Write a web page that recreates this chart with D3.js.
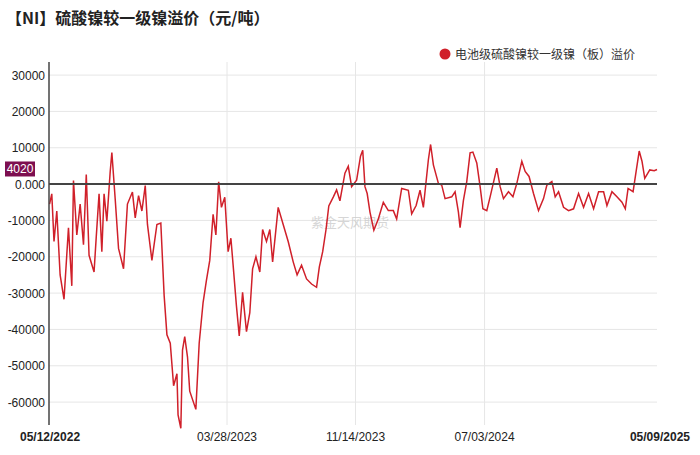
<!DOCTYPE html>
<html><head><meta charset="utf-8">
<script src="https://cdn.jsdelivr.net/npm/d3@7"></script>
<style>body{margin:0;background:#fff;font-family:"Noto Sans CJK SC","Noto Sans",sans-serif}</style>
</head><body><svg id="chart"></svg>
<script>
// days since 05/12/2022
var dayOffsets = [1,5,9,14,20,27,35,41,44,50,56,62,67,72,81,85,90,95,99,104,110,113,119,125,134,141,150,155,161,167,173,177,185,194,201,207,212,218,224,230,232,237,240,244,249,253,264,270,277,283,289,295,300,305,310,316,322,327,331,337,342,348,355,361,366,372,379,384,391,397,402,412,421,430,439,446,454,463,472,481,486,492,498,503,511,517,523,
  532,538,544,553,560,564,568,572,577,584,592,601,610,619,625,634,646,652,660,667,673,682,686,691,700,706,712,724,730,736,739,745,751,757,762,769,775,780,787,793,800,805,811,817,826,834,841,850,856,863,871,880,889,895,904,910,916,925,934,943,952,961,970,979,988,997,1003,1012,1021,1030,1036,1041,1050,1055,1061,1066,1071,1080,1088,1093];
var premium = [-5500,-2700,-15800,-7400,-25000,-31700,-12000,-28000,1000,-14000,-5500,-16700,2600,-19600,-24200,-14400,-2700,-18600,-2700,-10200,3400,8700,-4100,-17700,-23300,-5500,-2200,-9300,-3200,-7400,-400,-11100,-21000,-11100,-10700,-30700,-41500,-43800,-55500,-52200,-63500,-67200,-45700,-42000,-47600,-57000,-62000,-43800,-32600,-26500,-21000,-8300,-14000,600,-6400,-3600,-18600,-14900,-22300,-33600,-41800,-29800,-40600,-35400,-23300,-20000,-24200,-12500,-15800,-12500,-21400,-6400,-11100,-15800,-21400,-25000,-22300,-26100,-27500,-28400,-22800,-18600,-12500,-6000,-3600,-1600,-4600,
  3000,4900,-700,1100,7700,9300,-700,-2600,-7700,-12700,-9600,-5000,-7300,-7300,-9600,-1200,-1700,-8200,-5900,-1700,-6400,6700,10900,5300,200,-300,-4000,-3500,-2100,-7700,-12000,-4500,700,8600,8800,5800,-700,-6800,-7300,-3500,1100,4400,-700,-4000,-2100,-3500,200,6300,3500,2100,-2600,-7300,-4000,-300,700,-3500,-2100,-6400,-7300,-6800,-2600,-6400,-2600,-6800,-2100,-2100,-5900,-2100,-3500,-5000,-6800,-1200,-2100,3000,9100,6300,1600,3900,3700,4020];
var yTicks = [30000,20000,10000,0,-10000,-20000,-30000,-40000,-50000,-60000];
var xTickDates = ["05/12/2022","03/28/2023","11/14/2023","07/03/2024","05/09/2025"];
var seriesName = "电池级硫酸镍较一级镍（板）溢价";

var W = 700, H = 455;
var m = {left:49, right:43, top:62, bottom:30};
var parse = d3.timeParse("%m/%d/%Y");
var start = parse("05/12/2022");
var data = dayOffsets.map(function(d,i){ return {date:d3.timeDay.offset(start,d), v:premium[i]}; });

var svg = d3.select("#chart").attr("width",W).attr("height",H);

var x = d3.scaleTime().domain([start, parse("05/09/2025")]).range([m.left, W-m.right]);
var y = d3.scaleLinear().domain([-66300, 33600]).range([H-m.bottom, m.top]);

svg.append("text").attr("x",6).attr("y",24).attr("font-size",16).attr("font-weight","bold")
   .attr("fill","#222").text("【NI】硫酸镍较一级镍溢价（元/吨）");

// legend
svg.append("circle").attr("cx",445).attr("cy",54).attr("r",5.5).attr("fill","#d0202a");
svg.append("text").attr("x",455).attr("y",58.5).attr("font-size",12).attr("fill","#333").text(seriesName);

// grid
svg.selectAll(".yg").data(yTicks).enter().append("line")
   .attr("x1",m.left).attr("x2",W-m.right).attr("y1",function(d){return y(d);}).attr("y2",function(d){return y(d);})
   .attr("stroke","#e6e6e6");
svg.selectAll(".xg").data(xTickDates.slice(1,4)).enter().append("line")
   .attr("x1",function(d){return x(parse(d));}).attr("x2",function(d){return x(parse(d));})
   .attr("y1",m.top).attr("y2",H-m.bottom).attr("stroke","#e6e6e6");

svg.selectAll(".yl").data(yTicks).enter().append("text")
   .attr("x",45).attr("y",function(d){return y(d)+4.5;}).attr("text-anchor","end")
   .attr("font-size",12).attr("font-family","Liberation Sans, Arial").attr("fill","#222")
   .text(function(d){return d===0 ? "0.000" : d;});

svg.selectAll(".xl").data(xTickDates).enter().append("text")
   .attr("x",function(d,i){return i===0 ? 20 : i===4 ? 690 : x(parse(d));})
   .attr("y",441).attr("text-anchor",function(d,i){return i===0?"start":i===4?"end":"middle";})
   .attr("font-size",12).attr("font-family","Liberation Sans, Arial")
   .attr("font-weight",function(d,i){return (i===0||i===4)?"bold":"normal";}).attr("fill","#222")
   .text(function(d){return d;});

svg.append("text").attr("x",350).attr("y",227).attr("text-anchor","middle").attr("font-size",13)
   .attr("fill","#ccc").attr("opacity",0.8).text("紫金天风期货");

svg.append("path").datum(data).attr("fill","none").attr("stroke","#d0202a").attr("stroke-width",1.5)
   .attr("d", d3.line().x(function(d){return x(d.date);}).y(function(d){return y(d.v);}));

svg.append("line").attr("x1",m.left).attr("x2",W-m.right).attr("y1",y(0)).attr("y2",y(0))
   .attr("stroke","#444").attr("stroke-width",2);
svg.append("line").attr("x1",m.left).attr("x2",m.left).attr("y1",m.top).attr("y2",H-m.bottom)
   .attr("stroke","#444").attr("stroke-width",1.5);

// last value tag
var last = premium[premium.length-1];
svg.append("rect").attr("x",5).attr("y",y(last)-8).attr("width",30).attr("height",15).attr("fill","#7d0f50");
svg.append("text").attr("x",20).attr("y",y(last)+4).attr("text-anchor","middle").attr("font-size",12)
   .attr("font-family","Liberation Sans, Arial").attr("fill","#fff").text(last);
</script></body></html>
